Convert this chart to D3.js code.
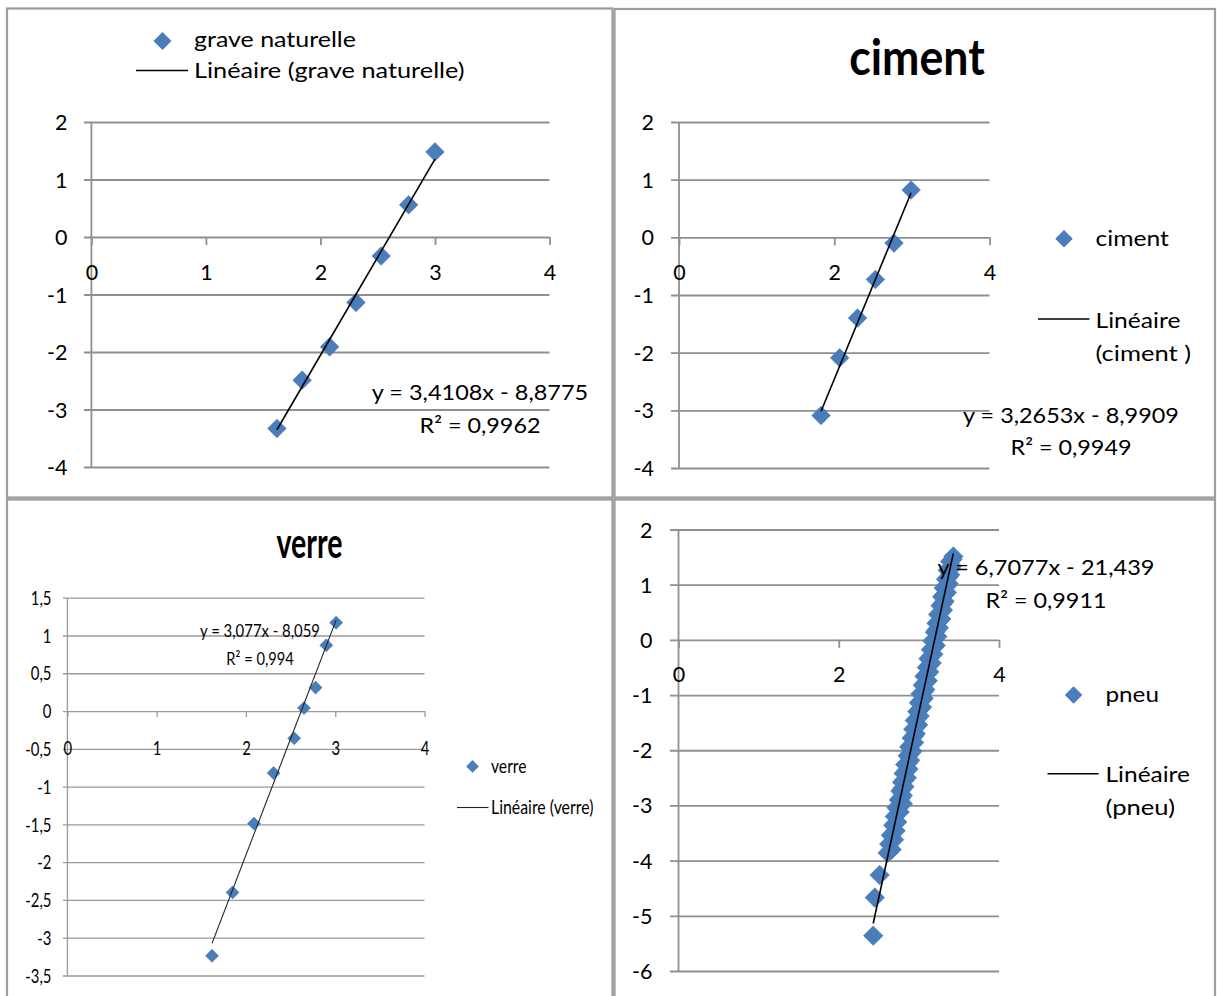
<!DOCTYPE html>
<html><head><meta charset="utf-8">
<script src="https://cdn.jsdelivr.net/npm/d3@7"></script>
<style>
body{margin:0;background:#fff;}
svg{display:block;}
text{font-family:Lato,"Open Sans",sans-serif;fill:#000;}
</style></head><body>
<svg id="c" width="1217" height="996"></svg>
<script>
// ---------------- DATA ----------------
const graveX = [1.62, 1.84, 2.08, 2.31, 2.53, 2.77, 3.00];
const graveY = [-3.33, -2.49, -1.91, -1.14, -0.33, 0.56, 1.48];
const graveFit = [3.4108, -8.8775];
const graveR2 = "0,9962";

const cimentX = [1.83, 2.07, 2.30, 2.53, 2.77, 2.99];
const cimentY = [-3.09, -2.09, -1.40, -0.73, -0.10, 0.82];
const cimentFit = [3.2653, -8.9909];
const cimentR2 = "0,9949";

const verreX = [1.62, 1.85, 2.09, 2.31, 2.54, 2.65, 2.78, 2.90, 3.01];
const verreY = [-3.24, -2.40, -1.49, -0.82, -0.36, 0.04, 0.31, 0.87, 1.17];
const verreFit = [3.077, -8.059];
const verreR2 = "0,994";

const pneuX = [2.43, 2.45, 2.51,
  2.61, 2.66, 2.63, 2.69, 2.65, 2.71, 2.68, 2.73, 2.70, 2.76, 2.72, 2.80,
  2.75, 2.80, 2.77, 2.82, 2.79, 2.85, 2.81, 2.87, 2.83, 2.89, 2.86, 2.92,
  2.88, 2.94, 2.91, 2.96, 2.93, 2.99, 2.95, 3.01, 2.98, 3.04, 3.00, 3.06,
  3.02, 3.08, 3.05, 3.11, 3.07, 3.13, 3.10, 3.16, 3.12, 3.18, 3.15, 3.21,
  3.17, 3.23, 3.20, 3.25, 3.22, 3.28, 3.24, 3.30, 3.27, 3.32, 3.29, 3.35,
  3.31, 3.37, 3.34, 3.39, 3.36, 3.41, 3.39, 3.43,
  2.78, 2.79, 2.82, 2.84, 2.87, 2.89, 2.91, 2.94, 2.96, 2.98, 3.01, 3.03,
  3.06, 3.08, 3.10, 3.13, 3.15, 3.18, 3.20, 3.22, 3.25, 3.27, 3.30, 3.32,
  3.35, 3.37, 3.40, 3.42];
const pneuY = [-5.36, -4.67, -4.26,
  -3.86, -3.80, -3.70, -3.62, -3.54, -3.46, -3.36, -3.30, -3.20, -3.12, -3.04, -2.97,
  -2.90, -2.82, -2.74, -2.66, -2.58, -2.50, -2.42, -2.34, -2.26, -2.18, -2.10, -2.02,
  -1.94, -1.86, -1.78, -1.70, -1.62, -1.54, -1.46, -1.38, -1.30, -1.22, -1.14, -1.06,
  -0.98, -0.90, -0.82, -0.74, -0.66, -0.58, -0.50, -0.42, -0.34, -0.26, -0.18, -0.10,
  -0.02, 0.06, 0.14, 0.22, 0.30, 0.38, 0.46, 0.54, 0.62, 0.70, 0.78, 0.86,
  0.94, 1.02, 1.10, 1.18, 1.26, 1.34, 1.42, 1.51,
  -2.86, -2.70, -2.54, -2.38, -2.22, -2.06, -1.90, -1.74, -1.58, -1.42, -1.26, -1.10,
  -0.94, -0.78, -0.62, -0.46, -0.30, -0.14, 0.02, 0.18, 0.34, 0.50, 0.66, 0.82,
  0.98, 1.14, 1.30, 1.46];
const pneuFit = [6.7077, -21.439];
const pneuR2 = "0,9911";

const xTicks4 = [0, 1, 2, 3, 4];
const xTicks2 = [0, 2, 4];
const yTicksA = [2, 1, 0, -1, -2, -3, -4];
const yTicksVerre = [1.5, 1, 0.5, 0, -0.5, -1, -1.5, -2, -2.5, -3, -3.5];
const yTicksPneu = [2, 1, 0, -1, -2, -3, -4, -5, -6];

const seriesNames = ["grave naturelle", "ciment", "verre", "pneu"];
const trendNames = ["Linéaire (grave naturelle)", ["Linéaire", "(ciment )"], "Linéaire (verre)", ["Linéaire", "(pneu)"]];
const titles = [null, "ciment", "verre", null];

// ---------------- DRAWING ----------------
const svg = d3.select("#c");
const BLUE = "#4a7ebb";
const fmt = d => String(d).replace(".", ",");
const eq = f => "y = " + fmt(f[0]) + "x " + (f[1] < 0 ? "- " : "+ ") + fmt(Math.abs(f[1]));

// frames
[[7, 8.5, 612.5, 497.5], [614.5, 9, 1215, 497.5], [7, 499.5, 612.5, 1000], [614.5, 499.5, 1215, 1000]]
  .forEach(r => svg.append("rect").attr("x", r[0]).attr("y", r[1]).attr("width", r[2] - r[0]).attr("height", r[3] - r[1])
    .attr("fill", "none").attr("stroke", "#9c9c9c").attr("stroke-width", 2.2));

function txt(g, str, x, y, o) {
  const t = g.append("text").text(str)
    .attr("font-size", o.size).attr("font-weight", o.weight || 400)
    .attr("text-anchor", o.anchor || "start");
  let s = o.sx || 1;
  if (o.w) s = o.w / t.node().getComputedTextLength();
  t.attr("transform", `translate(${x},${y}) scale(${s},1)`);
  return t;
}
const diamond = r => `M0,${-r}L${r},0L0,${r}L${-r},0Z`;

function panel(c) {
  const g = svg.append("g");
  const x = d3.scaleLinear().domain([c.xTicks[0], c.xTicks[c.xTicks.length - 1]]).range([c.x0, c.x1]);
  const y = d3.scaleLinear().domain([c.yTicks[0], c.yTicks[c.yTicks.length - 1]]).range([c.yTop, c.yBot]);

  // gridlines
  const grid = g.append("g").attr("transform", `translate(${c.x0 - c.gridExt},0)`)
    .call(d3.axisRight(y).tickValues(c.yTicks).tickSize(c.x1 - c.x0 + c.gridExt).tickFormat(""));
  grid.select(".domain").remove();
  grid.selectAll("line").attr("stroke", c.gridColor).attr("stroke-width", c.gridW);

  // y axis line
  g.append("line").attr("x1", c.x0).attr("x2", c.x0).attr("y1", c.yTop).attr("y2", c.yBot)
    .attr("stroke", c.gridColor).attr("stroke-width", c.gridW);

  // x axis at y=0
  const xa = g.append("g").attr("transform", `translate(0,${y(0)})`)
    .call(d3.axisBottom(x).tickValues(c.xTicks).tickSize(c.tickLen).tickFormat(fmt));
  xa.select(".domain").remove();
  xa.selectAll("line").attr("stroke", c.gridColor).attr("stroke-width", c.gridW);
  xa.selectAll("text").attr("y", null).attr("dy", null).attr("font-size", c.tickSize)
    .attr("transform", `translate(0,${c.xLabOff}) scale(${c.tickSx},1)`).attr("fill", c.tickColor);

  // y labels
  const ya = g.append("g").attr("transform", `translate(${c.x0},0)`)
    .call(d3.axisLeft(y).tickValues(c.yTicks).tickSize(0).tickFormat(fmt));
  ya.select(".domain").remove();
  ya.selectAll("text").attr("x", null).attr("dy", null).attr("font-size", c.tickSize)
    .attr("text-anchor", "end")
    .attr("transform", `translate(${-c.yLabGap},${c.yLabOff}) scale(${c.tickSx},1)`).attr("fill", c.tickColor);

  // points
  const pts = c.xs.map((v, i) => [v, c.ys[i]]);
  g.append("g").selectAll("path").data(pts).join("path")
    .attr("d", diamond(c.r)).attr("fill", BLUE).attr("stroke", c.ptStroke).attr("stroke-width", 0.6)
    .attr("transform", d => `translate(${x(d[0])},${y(d[1])})`);

  // trendline
  const ext = d3.extent(c.xs);
  g.append("path").datum(ext)
    .attr("d", d3.line().x(d => x(d)).y(d => y(c.fit[0] * d + c.fit[1])))
    .attr("stroke", c.lineColor).attr("stroke-width", c.lineW).attr("fill", "none");

  // equation
  txt(g, eq(c.fit), c.eq.x, c.eq.y1, {size: c.eq.size, anchor: "middle", w: c.eq.w1});
  txt(g, "R² = " + c.r2, c.eq.x, c.eq.y2, {size: c.eq.size, anchor: "middle", w: c.eq.w2});

  // title
  if (c.title) txt(g, c.title, c.t.x, c.t.y, {size: c.t.size, weight: 700, anchor: "middle", w: c.t.w});

  // legend
  const L = c.leg;
  g.append("path").attr("d", diamond(L.r)).attr("fill", BLUE).attr("transform", `translate(${L.dx},${L.dy})`);
  txt(g, c.name, L.tx, L.ty1, {size: L.size, w: L.w1});
  g.append("line").attr("x1", L.lx1).attr("x2", L.lx2).attr("y1", L.ly).attr("y2", L.ly)
    .attr("stroke", c.lineColor).attr("stroke-width", c.lineW);
  const tn = Array.isArray(c.trend) ? c.trend : [c.trend];
  tn.forEach((s, i) => txt(g, s, L.tx, L.ty2 + i * L.lh, {size: L.size, w: L.w2[i]}));
}

panel({
  xs: graveX, ys: graveY, fit: graveFit, r2: graveR2, name: seriesNames[0], trend: trendNames[0], title: titles[0],
  xTicks: xTicks4, yTicks: yTicksA, x0: 91.4, x1: 549.5, yTop: 122, yBot: 467,
  gridExt: 7.5, gridColor: "#8f8f8f", gridW: 1.8, tickLen: 8, tickSize: 21.5, tickSx: 1, tickColor: "#000",
  xLabOff: 43, yLabGap: 24, yLabOff: 7.5, r: 9.3, ptStroke: "#4376b3", lineColor: "#000", lineW: 1.6,
  eq: {x: 480, y1: 400, y2: 433, size: 21.5, w1: 216.5, w2: 121},
  leg: {r: 9, dx: 162.5, dy: 41, tx: 194, ty1: 47, w1: 162, lx1: 136, lx2: 188, ly: 70.5, ty2: 78, lh: 33, w2: [270.7], size: 21.5}
});

panel({
  xs: cimentX, ys: cimentY, fit: cimentFit, r2: cimentR2, name: seriesNames[1], trend: trendNames[1], title: titles[1],
  xTicks: xTicks2, yTicks: yTicksA, x0: 679, x1: 989.5, yTop: 122, yBot: 468,
  gridExt: 8, gridColor: "#8f8f8f", gridW: 1.8, tickLen: 8, tickSize: 21.5, tickSx: 1, tickColor: "#000",
  xLabOff: 43, yLabGap: 25, yLabOff: 7.5, r: 9.3, ptStroke: "#4376b3", lineColor: "#000", lineW: 1.6,
  eq: {x: 1071, y1: 423, y2: 455, size: 21.5, w1: 216, w2: 121},
  t: {x: 917, y: 75, size: 49, w: 135.5},
  leg: {r: 8.8, dx: 1064, dy: 238.7, tx: 1095.5, ty1: 246, w1: 73.5, lx1: 1038, lx2: 1089.5, ly: 319, ty2: 328, lh: 33, w2: [85, 95.5], size: 21.5}
});

panel({
  xs: verreX, ys: verreY, fit: verreFit, r2: verreR2, name: seriesNames[2], trend: trendNames[2], title: titles[2],
  xTicks: xTicks4, yTicks: yTicksVerre, x0: 67.4, x1: 424.5, yTop: 597.7, yBot: 975.5,
  gridExt: 4.5, gridColor: "#9a9a9a", gridW: 1.3, tickLen: 6, tickSize: 18.6, tickSx: 0.8, tickColor: "#111",
  xLabOff: 44, yLabGap: 16, yLabOff: 6.7, r: 6.5, ptStroke: "#4376b3", lineColor: "#222", lineW: 1.1,
  eq: {x: 260, y1: 637, y2: 665, size: 17.5, w1: 120, w2: 67.5},
  t: {x: 309.4, y: 558, size: 41.5, w: 66},
  leg: {r: 6.3, dx: 472.5, dy: 766.4, tx: 491, ty1: 773, w1: 35.5, lx1: 457, lx2: 488.5, ly: 807.5, ty2: 814, lh: 30, w2: [102.5], size: 18.6}
});

panel({
  xs: pneuX, ys: pneuY, fit: pneuFit, r2: pneuR2, name: seriesNames[3], trend: trendNames[3], title: titles[3],
  xTicks: xTicks2, yTicks: yTicksPneu, x0: 678.5, x1: 999, yTop: 529.5, yBot: 971,
  gridExt: 8.5, gridColor: "#8f8f8f", gridW: 1.8, tickLen: 8, tickSize: 21.5, tickSx: 1, tickColor: "#000",
  xLabOff: 42, yLabGap: 26, yLabOff: 7.5, r: 9.8, ptStroke: "#4a7ebb", lineColor: "#000", lineW: 1.6,
  eq: {x: 1046, y1: 575, y2: 608, size: 21.5, w1: 217, w2: 121},
  leg: {r: 8.8, dx: 1073.6, dy: 695, tx: 1105.5, ty1: 702, w1: 53.5, lx1: 1047.5, lx2: 1098.6, ly: 773.7, ty2: 782, lh: 32.5, w2: [84.5, 69.7], size: 21.5}
});
</script>
</body></html>
